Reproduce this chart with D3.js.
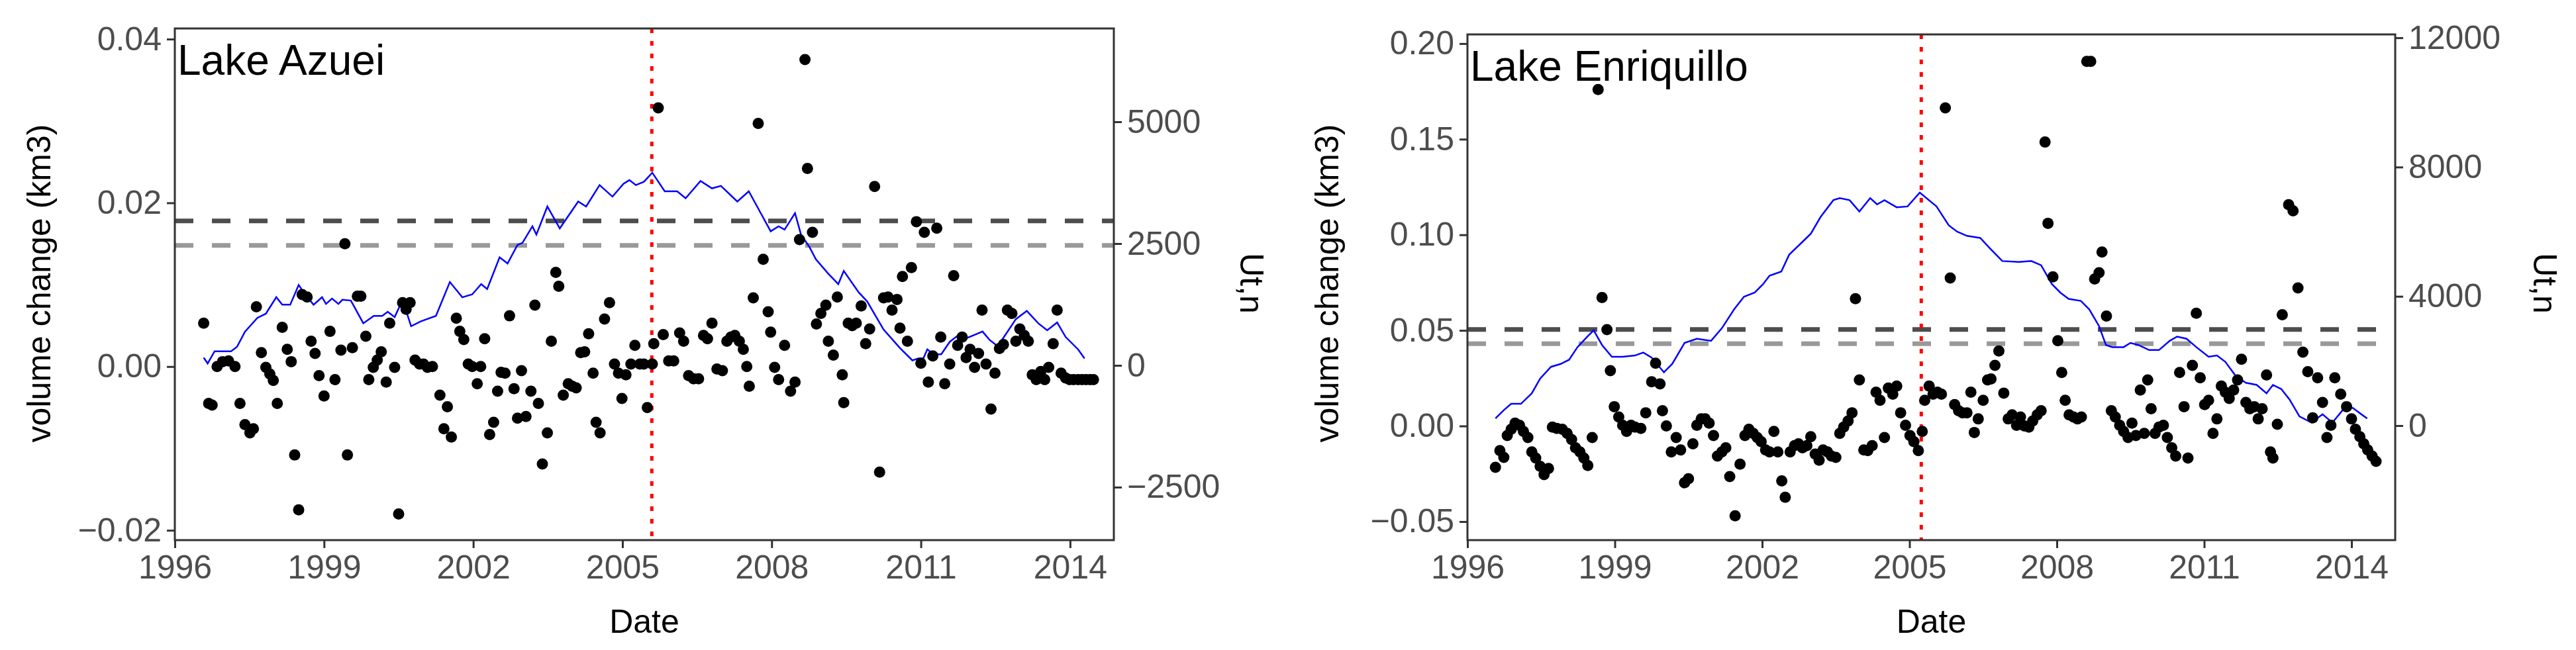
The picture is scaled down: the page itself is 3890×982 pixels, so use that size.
<!DOCTYPE html>
<html>
<head>
<meta charset="utf-8">
<script src="https://cdn.jsdelivr.net/npm/d3@7"></script>
<style>
  body { margin: 0; background: #fff; }
  text { font-family: "Liberation Sans", Arial, sans-serif; }
</style>
</head>
<body>
<svg id="chart" width="3890" height="982"></svg>
<script>
// Lake Azuei: monthly volume change (km3), [decimal year, value]
const azueiVol = [
  [1996.58,0.0053],[1996.68,-0.0045],[1996.75,-0.0047],[1996.85,0.0],[1996.96,0.0006],[1997.08,0.0007],
  [1997.21,0.0],[1997.31,-0.0045],[1997.41,-0.0071],[1997.51,-0.0081],[1997.58,-0.0076],[1997.64,0.0073],
  [1997.74,0.0017],[1997.83,-0.0001],[1997.91,-0.0009],[1997.98,-0.0017],[1998.06,-0.0045],[1998.16,0.0048],
  [1998.26,0.0021],[1998.34,0.0006],[1998.41,-0.0108],[1998.49,-0.0175],[1998.56,0.0088],[1998.66,0.0085],
  [1998.74,0.0031],[1998.82,0.0016],[1998.9,-0.0011],[1999.0,-0.0036],[1999.12,0.0043],[1999.22,-0.0016],
  [1999.34,0.002],[1999.42,0.015],[1999.47,-0.0108],[1999.57,0.0023],[1999.67,0.0086],[1999.74,0.0086],
  [1999.84,0.0037],[1999.9,-0.0016],[1999.99,-0.0001],[2000.07,0.0008],[2000.15,0.0018],[2000.25,-0.0019],
  [2000.32,0.0053],[2000.42,-0.0001],[2000.5,-0.018],[2000.58,0.0078],[2000.65,0.007],[2000.73,0.0078],
  [2000.83,0.0008],[2000.92,0.0003],[2001.0,0.0003],[2001.08,-0.0001],[2001.18,0.0],[2001.33,-0.0035],
  [2001.41,-0.0076],[2001.48,-0.0049],[2001.56,-0.0086],[2001.66,0.0059],[2001.73,0.0043],[2001.81,0.0033],
  [2001.9,0.0003],[2001.98,0.0],[2002.08,-0.0021],[2002.15,0.0],[2002.23,0.0034],[2002.33,-0.0083],
  [2002.41,-0.0068],[2002.49,-0.003],[2002.56,-0.0007],[2002.64,-0.0008],[2002.73,0.0062],[2002.82,-0.0027],
  [2002.89,-0.0063],[2002.97,-0.0005],[2003.06,-0.0061],[2003.16,-0.003],[2003.24,0.0075],[2003.31,-0.0045],
  [2003.39,-0.0119],[2003.49,-0.0081],[2003.57,0.0031],[2003.66,0.0115],[2003.72,0.0098],[2003.81,-0.0035],
  [2003.91,-0.0021],[2003.99,-0.0024],[2004.07,-0.0026],[2004.16,0.0017],[2004.24,0.0018],[2004.32,0.004],
  [2004.41,-0.0008],[2004.47,-0.0068],[2004.55,-0.0081],[2004.64,0.0058],[2004.74,0.0078],[2004.84,0.0003],
  [2004.92,-0.0008],[2004.99,-0.0039],[2005.07,-0.001],[2005.17,0.0003],[2005.25,0.0026],[2005.35,0.0003],
  [2005.43,0.0003],[2005.5,-0.005],[2005.6,0.0003],[2005.63,0.0028],[2005.72,0.0316],[2005.82,0.0039],
  [2005.93,0.0007],[2006.03,0.0007],[2006.15,0.0041],[2006.23,0.0031],[2006.33,-0.0011],[2006.43,-0.0015],
  [2006.53,-0.0015],[2006.63,0.0038],[2006.71,0.0034],[2006.8,0.0053],[2006.9,-0.0003],[2007.01,-0.0005],
  [2007.1,0.0031],[2007.18,0.0036],[2007.26,0.0038],[2007.35,0.0031],[2007.43,0.0021],[2007.5,0.0],
  [2007.55,-0.0024],[2007.63,0.0084],[2007.73,0.0297],[2007.83,0.0131],[2007.93,0.0067],[2007.98,0.0042],
  [2008.06,-0.0001],[2008.14,-0.0016],[2008.26,0.0026],[2008.38,-0.003],[2008.47,-0.0019],[2008.56,0.0155],
  [2008.67,0.0375],[2008.72,0.0242],[2008.82,0.0164],[2008.9,0.0052],[2008.99,0.0065],[2009.09,0.0075],
  [2009.14,0.0031],[2009.24,0.0014],[2009.32,0.0085],[2009.42,-0.001],[2009.45,-0.0044],[2009.54,0.0053],
  [2009.62,0.005],[2009.7,0.0053],[2009.8,0.0074],[2009.89,0.0028],[2009.97,0.0046],[2010.07,0.022],
  [2010.17,-0.0129],[2010.25,0.0084],[2010.34,0.0085],[2010.42,0.0069],[2010.52,0.0082],[2010.58,0.0047],
  [2010.63,0.011],[2010.73,0.0031],[2010.81,0.0121],[2010.91,0.0177],[2011.0,0.0004],[2011.07,0.0164],
  [2011.15,-0.0019],[2011.24,0.0013],[2011.32,0.0169],[2011.4,0.0036],[2011.48,-0.0021],[2011.58,0.0003],
  [2011.66,0.0111],[2011.74,0.0026],[2011.83,0.0036],[2011.91,0.0011],[2011.99,0.0021],[2012.08,-0.0001],
  [2012.16,0.0016],[2012.23,0.0069],[2012.31,0.0003],[2012.41,-0.0052],[2012.49,-0.0008],[2012.58,0.0022],
  [2012.66,0.0027],[2012.74,0.0069],[2012.83,0.0065],[2012.91,0.0031],[2012.99,0.0046],[2013.08,0.0038],
  [2013.16,0.0031],[2013.24,-0.001],[2013.32,-0.0016],[2013.41,-0.0006],[2013.49,-0.0016],[2013.57,-0.0001],
  [2013.66,0.0028],[2013.74,0.0069],[2013.82,-0.0008],[2013.91,-0.0014],[2013.99,-0.0016],[2014.07,-0.0016],
  [2014.16,-0.0016],[2014.24,-0.0016],[2014.32,-0.0016],[2014.4,-0.0016],[2014.47,-0.0016]
];

// Lake Azuei: Ut,n statistic, [decimal year, value]
const azueiUt = [
  [1996.58,160],[1996.66,40],[1996.8,290],[1996.96,290],[1997.13,290],[1997.25,380],[1997.41,690],
  [1997.66,975],[1997.83,1060],[1998.04,1400],[1998.16,1245],[1998.32,1245],[1998.49,1650],[1998.62,1457],
  [1998.79,1245],[1998.96,1400],[1999.04,1262],[1999.16,1372],[1999.29,1262],[1999.37,1347],[1999.54,1330],
  [1999.79,864],[2000.0,1016],[2000.17,1016],[2000.28,1101],[2000.42,991],[2000.58,1347],[2000.75,805],
  [2000.95,906],[2001.25,1016],[2001.53,1711],[2001.78,1398],[2001.98,1457],[2002.16,1669],[2002.28,1567],
  [2002.53,2219],[2002.69,2092],[2002.89,2473],[2002.99,2516],[2003.19,2854],[2003.27,2685],[2003.49,3261],
  [2003.74,2812],[2004.11,3363],[2004.27,3261],[2004.54,3701],[2004.8,3464],[2005.02,3727],[2005.14,3803],
  [2005.27,3701],[2005.43,3769],[2005.6,3955],[2005.85,3574],[2006.1,3574],[2006.27,3430],[2006.57,3786],
  [2006.8,3634],[2006.98,3685],[2007.31,3363],[2007.54,3574],[2007.79,3108],[2007.98,2753],[2008.14,2854],
  [2008.26,2787],[2008.47,3125],[2008.59,2685],[2008.76,2431],[2008.89,2177],[2009.14,1880],[2009.34,1669],
  [2009.45,1940],[2009.75,1499],[2009.92,1313],[2010.25,737],[2010.58,356],[2010.83,102],[2010.95,144],
  [2011.05,144],[2011.13,330],[2011.25,229],[2011.41,229],[2011.58,483],[2011.74,610],[2011.94,567],
  [2012.08,627],[2012.24,695],[2012.38,525],[2012.54,398],[2012.66,567],[2012.91,949],[2013.13,1118],
  [2013.36,864],[2013.54,720],[2013.74,881],[2013.91,584],[2014.16,330],[2014.29,144]
];

// Lake Enriquillo: monthly volume change (km3)
const enriquilloVol = [
  [1996.57,-0.0216],[1996.66,-0.0129],[1996.74,-0.0164],[1996.81,-0.005],[1996.89,-0.0017],[1996.97,0.0015],
  [1997.06,0.0004],[1997.14,-0.0028],[1997.23,-0.006],[1997.31,-0.0136],[1997.39,-0.0168],[1997.48,-0.0211],
  [1997.56,-0.0254],[1997.65,-0.0222],[1997.73,-0.0006],[1997.82,-0.0013],[1997.93,-0.0017],[1998.03,-0.0039],
  [1998.12,-0.0071],[1998.2,-0.0114],[1998.29,-0.0136],[1998.37,-0.0168],[1998.45,-0.0207],[1998.54,-0.006],
  [1998.66,0.176],[1998.74,0.0672],[1998.84,0.0504],[1998.91,0.0289],[1998.99,0.0101],[1999.08,0.0047],
  [1999.16,0.0004],[1999.24,-0.0028],[1999.33,0.0004],[1999.41,-0.0006],[1999.53,-0.0013],[1999.63,0.0069],
  [1999.75,0.0231],[1999.83,0.0328],[1999.92,0.022],[1999.97,0.008],[2000.05,0.0],[2000.15,-0.0136],
  [2000.25,-0.006],[2000.34,-0.0125],[2000.42,-0.0297],[2000.5,-0.0276],[2000.59,-0.0093],[2000.67,0.0004],
  [2000.76,0.0037],[2000.84,0.0037],[2000.92,0.0015],[2001.01,-0.005],[2001.09,-0.0157],[2001.18,-0.0136],
  [2001.26,-0.0114],[2001.34,-0.0265],[2001.45,-0.047],[2001.55,-0.02],[2001.65,-0.005],[2001.73,-0.0017],
  [2001.82,-0.0039],[2001.9,-0.006],[2001.98,-0.0082],[2002.07,-0.0125],[2002.15,-0.0136],[2002.24,-0.0028],
  [2002.32,-0.0136],[2002.4,-0.0287],[2002.47,-0.0373],[2002.57,-0.0136],[2002.66,-0.0103],[2002.74,-0.0093],
  [2002.82,-0.0114],[2002.91,-0.0103],[2002.99,-0.0056],[2003.08,-0.0147],[2003.16,-0.0179],[2003.24,-0.0125],
  [2003.33,-0.0136],[2003.41,-0.0157],[2003.5,-0.0164],[2003.58,-0.0039],[2003.66,-0.0006],[2003.75,0.0026],
  [2003.83,0.0069],[2003.9,0.0666],[2003.98,0.0241],[2004.07,-0.0125],[2004.15,-0.0129],[2004.24,-0.0103],
  [2004.32,0.0177],[2004.4,0.0134],[2004.49,-0.006],[2004.57,0.0198],[2004.66,0.0166],[2004.74,0.0209],
  [2004.82,0.0069],[2004.92,0.0004],[2005.01,-0.005],[2005.09,-0.0082],[2005.18,-0.0129],[2005.26,-0.0028],
  [2005.31,0.0134],[2005.4,0.0209],[2005.48,0.0166],[2005.57,0.0177],[2005.65,0.0166],[2005.73,0.1664],
  [2005.83,0.0774],[2005.92,0.0112],[2006.0,0.008],[2006.08,0.0069],[2006.17,0.0069],[2006.25,0.0177],
  [2006.32,-0.0034],[2006.4,0.0037],[2006.5,0.0134],[2006.59,0.0241],[2006.66,0.0246],[2006.74,0.0317],
  [2006.82,0.0392],[2006.92,0.0172],[2007.01,0.0037],[2007.09,0.0058],[2007.18,0.0004],[2007.26,0.0047],
  [2007.34,0.0],[2007.43,-0.0006],[2007.51,0.0026],[2007.6,0.0058],[2007.68,0.008],[2007.76,0.1485],
  [2007.82,0.106],[2007.92,0.078],[2008.02,0.0446],[2008.1,0.028],[2008.17,0.0134],[2008.25,0.0058],
  [2008.34,0.0047],[2008.42,0.0037],[2008.5,0.0047],[2008.61,0.1907],[2008.69,0.1907],[2008.77,0.0769],
  [2008.86,0.0802],[2008.92,0.091],[2009.01,0.0575],[2009.11,0.008],[2009.19,0.0047],[2009.28,0.0004],
  [2009.36,-0.0028],[2009.45,-0.006],[2009.53,0.0015],[2009.61,-0.005],[2009.7,0.0188],[2009.78,-0.0039],
  [2009.85,0.0241],[2009.92,0.009],[2010.0,-0.0039],[2010.08,-0.0006],[2010.17,0.0004],[2010.25,-0.006],
  [2010.34,-0.0114],[2010.42,-0.0157],[2010.5,0.028],[2010.59,0.0101],[2010.67,-0.0168],[2010.76,0.0317],
  [2010.84,0.059],[2010.92,0.0252],[2011.01,0.0112],[2011.09,0.0134],[2011.18,-0.0039],[2011.26,0.0037],
  [2011.35,0.0209],[2011.43,0.0177],[2011.51,0.0144],[2011.6,0.0188],[2011.68,0.0241],[2011.76,0.0349],
  [2011.85,0.0123],[2011.93,0.009],[2012.02,0.0101],[2012.1,0.0037],[2012.18,0.009],[2012.27,0.0267],
  [2012.35,-0.0136],[2012.4,-0.0168],[2012.49,0.0009],[2012.59,0.0582],[2012.72,0.1157],[2012.81,0.1125],
  [2012.91,0.0722],[2013.01,0.0386],[2013.11,0.0284],[2013.21,0.0043],[2013.31,0.0252],[2013.41,0.0123],
  [2013.5,-0.006],[2013.58,0.0004],[2013.66,0.0252],[2013.78,0.0166],[2013.9,0.0101],[2014.0,0.0037],
  [2014.08,-0.0017],[2014.17,-0.0056],[2014.25,-0.0093],[2014.33,-0.0125],[2014.42,-0.0157],[2014.5,-0.0185]
];

// Lake Enriquillo: Ut,n statistic
const enriquilloUt = [
  [1996.57,221],[1996.74,480],[1996.89,675],[1997.09,675],[1997.31,1000],[1997.48,1455],[1997.7,1819],
  [1997.9,1910],[1998.07,2039],[1998.24,2429],[1998.44,2754],[1998.57,2949],[1998.74,2494],[1998.94,2130],
  [1999.16,2130],[1999.41,2169],[1999.58,2260],[1999.75,2104],[2000.0,1650],[2000.17,1910],[2000.42,2559],
  [2000.67,2689],[2000.96,2624],[2001.18,3014],[2001.43,3598],[2001.63,3988],[2001.85,4118],[2002.02,4378],
  [2002.15,4637],[2002.39,4767],[2002.55,5287],[2002.77,5612],[2002.99,5936],[2003.19,6456],[2003.45,6976],
  [2003.58,7041],[2003.78,6976],[2003.98,6625],[2004.2,7041],[2004.34,6846],[2004.49,6976],[2004.74,6755],
  [2004.96,6781],[2005.21,7209],[2005.55,6781],[2005.8,6196],[2005.97,6001],[2006.17,5871],[2006.44,5807],
  [2006.64,5482],[2006.89,5092],[2007.23,5066],[2007.48,5092],[2007.68,4962],[2007.9,4378],[2008.07,4118],
  [2008.24,3923],[2008.49,3858],[2008.66,3598],[2008.86,3079],[2009.0,2494],[2009.13,2429],[2009.36,2429],
  [2009.5,2559],[2009.66,2494],[2009.88,2338],[2010.08,2338],[2010.3,2624],[2010.45,2754],[2010.64,2689],
  [2010.84,2429],[2011.09,2130],[2011.26,2169],[2011.43,1974],[2011.65,1520],[2011.85,1325],[2012.07,1260],
  [2012.27,1000],[2012.4,1260],[2012.57,1130],[2012.74,805],[2012.94,286],[2013.19,91],[2013.41,351],
  [2013.61,91],[2013.87,571],[2014.03,545],[2014.2,351],[2014.32,221]
];

const lakeNames = ["Lake Azuei", "Lake Enriquillo"];
const xTicks = [1996, 1999, 2002, 2005, 2008, 2011, 2014];
const azueiVolTicks = [-0.02, 0.00, 0.02, 0.04];
const azueiUtTicks = [-2500, 0, 2500, 5000];
const enriquilloVolTicks = [-0.05, 0.00, 0.05, 0.10, 0.15, 0.20];
const enriquilloUtTicks = [0, 4000, 8000, 12000];
const changeYears = [2005.59, 2005.24];      // red dotted line
const azueiThresholds = [0.0178, 0.0148];      // dark, light dashed lines
const enriquilloThresholds = [0.0505, 0.0430];

const svg = d3.select("#chart");
const FS = 50;

function drawPanel(p) {
  let g = svg.append("g");
  let x = d3.scaleLinear().domain(p.xDomain).range([p.left, p.right]);
  let y = d3.scaleLinear().domain(p.volDomain).range([p.bottom, p.top]);
  let y2 = d3.scaleLinear().domain(p.utDomain).range([p.bottom, p.top]);

  // threshold lines
  g.selectAll(".thr").data(p.thresholds).enter().append("line")
    .attr("x1", p.left).attr("x2", p.right)
    .attr("y1", d => y(d)).attr("y2", d => y(d))
    .attr("stroke", (d, i) => i == 0 ? "#4d4d4d" : "#999999")
    .attr("stroke-width", 7)
    .attr("stroke-dasharray", "28,28");

  // change point
  g.append("line")
    .attr("x1", x(p.change)).attr("x2", x(p.change))
    .attr("y1", p.top).attr("y2", p.bottom)
    .attr("stroke", "red").attr("stroke-width", 5)
    .attr("stroke-dasharray", "7,12");

  // Ut,n line
  let line = d3.line().x(d => x(d[0])).y(d => y2(d[1]));
  g.append("path").datum(p.ut)
    .attr("d", line).attr("fill", "none")
    .attr("stroke", "blue").attr("stroke-width", 2.5);

  // volume points
  g.selectAll(".pt").data(p.vol).enter().append("circle")
    .attr("cx", d => x(d[0])).attr("cy", d => y(d[1]))
    .attr("r", 8.5).attr("fill", "black");

  // frame
  g.append("rect")
    .attr("x", p.left).attr("y", p.top)
    .attr("width", p.right - p.left).attr("height", p.bottom - p.top)
    .attr("fill", "none").attr("stroke", "#333").attr("stroke-width", 3);

  let styleAxis = function (sel) {
    sel.select(".domain").remove();
    sel.selectAll(".tick line").attr("stroke", "#333").attr("stroke-width", 3);
    sel.selectAll(".tick text").attr("fill", "#4d4d4d").style("font-size", FS + "px");
  };

  g.append("g").attr("transform", `translate(0,${p.bottom})`)
    .call(d3.axisBottom(x).tickValues(xTicks).tickFormat(d3.format("d")).tickSize(12).tickPadding(10))
    .call(styleAxis);
  g.append("g").attr("transform", `translate(${p.left},0)`)
    .call(d3.axisLeft(y).tickValues(p.volTicks).tickFormat(d3.format(".2f")).tickSize(12).tickPadding(8))
    .call(styleAxis);
  g.append("g").attr("transform", `translate(${p.right},0)`)
    .call(d3.axisRight(y2).tickValues(p.utTicks).tickFormat(d3.format("d")).tickSize(12).tickPadding(8))
    .call(styleAxis);

  g.append("text").text(p.name)
    .attr("x", p.left + 4).attr("y", p.top + 70)
    .style("font-size", "64px").attr("fill", "black");

  g.append("text").text("Date")
    .attr("x", (p.left + p.right) / 2).attr("y", 956)
    .attr("text-anchor", "middle").style("font-size", FS + "px");

  g.append("text").text("volume change (km3)")
    .attr("transform", `translate(${p.ylabX},428) rotate(-90)`)
    .attr("text-anchor", "middle").attr("dy", "0.35em").style("font-size", FS + "px");

  g.append("text").text("Ut,n")
    .attr("transform", `translate(${p.y2labX},428) rotate(90)`)
    .attr("text-anchor", "middle").attr("dy", "0.35em").style("font-size", FS + "px");
}

drawPanel({
  name: lakeNames[0], vol: azueiVol, ut: azueiUt,
  left: 264, right: 1682, top: 43, bottom: 816,
  xDomain: [1996, 2014.88], volDomain: [-0.0212, 0.0413], utDomain: [-3587, 6916],
  volTicks: azueiVolTicks, utTicks: azueiUtTicks,
  thresholds: azueiThresholds, change: changeYears[0],
  ylabX: 58, y2labX: 1890
});

drawPanel({
  name: lakeNames[1], vol: enriquilloVol, ut: enriquilloUt,
  left: 2216, right: 3617, top: 52, bottom: 816,
  xDomain: [1996, 2014.89], volDomain: [-0.0597, 0.2048], utDomain: [-3543, 12104],
  volTicks: enriquilloVolTicks, utTicks: enriquilloUtTicks,
  thresholds: enriquilloThresholds, change: changeYears[1],
  ylabX: 2003, y2labX: 3843
});
</script>
</body>
</html>
